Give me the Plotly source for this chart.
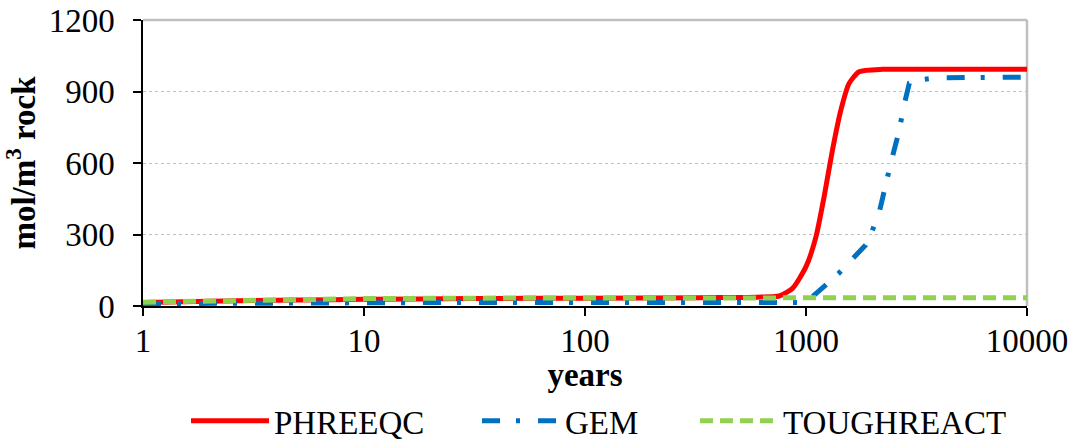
import plotly.graph_objects as go

# Time (years) and concentration (mol/m3 rock) for each code
phreeqc_years = [1, 2, 5, 10, 30, 100, 330, 600, 757, 869, 1000, 1110, 1208, 1318, 1438, 1567, 1740, 2218, 3000, 10000]
phreeqc_vals = [15, 20, 25, 28, 31, 33, 35, 37, 42, 74, 165, 291, 459, 655, 822, 934, 983, 993, 993, 993]

gem_years = [1, 2, 5, 10, 30, 100, 300, 1000, 1400, 1596, 1862, 1960, 2140, 2420, 2630, 2790, 2935, 3220, 4000, 10000]
gem_vals = [10, 12, 14, 15, 15, 15, 15, 15, 135, 193, 256, 298, 389, 600, 730, 850, 935, 948, 958, 960]

tough_years = [1, 3, 5, 10, 30, 100, 1000, 10000]
tough_vals = [16, 25, 29, 31, 33, 34, 35, 35]

x_ticks = [1, 10, 100, 1000, 10000]
x_ticktext = ["1", "10", "100", "1000", "10000"]
y_ticks = [0, 300, 600, 900, 1200]

FONT = "Liberation Serif, Times New Roman, serif"
FS = 33

fig = go.Figure()
fig.add_trace(go.Scatter(
    x=phreeqc_years, y=phreeqc_vals, name="PHREEQC", mode="lines", legend="legend",
    line=dict(color="#FF0000", width=5, shape="spline", smoothing=0.6),
))
fig.add_trace(go.Scatter(
    x=gem_years, y=gem_vals, name="GEM", mode="lines", legend="legend2",
    line=dict(color="#0070C0", width=5, dash="18px,16px,4px,18px"),
))
fig.add_trace(go.Scatter(
    x=tough_years, y=tough_vals, name="TOUGHREACT", mode="lines", legend="legend3",
    line=dict(color="#92D050", width=5, dash="13px,7px"),
))

# light frame on the top and right of the plot area
fig.add_shape(type="line", xref="paper", yref="paper", x0=0, x1=1, y0=1, y1=1,
              line=dict(color="#BFBFBF", width=2.5), layer="below")
fig.add_shape(type="line", xref="paper", yref="paper", x0=1, x1=1, y0=0, y1=1,
              line=dict(color="#BFBFBF", width=2.5), layer="below")


def legend_box(x_px):
    return dict(
        orientation="h", xref="container", x=x_px / 1082, xanchor="left",
        yref="container", y=0.052, yanchor="middle",
        font=dict(family=FONT, size=FS), itemwidth=78,
        bgcolor="rgba(0,0,0,0)", borderwidth=0,
    )


fig.update_layout(
    width=1082, height=444,
    margin=dict(l=143, r=55, t=20, b=138, autoexpand=False),
    paper_bgcolor="white", plot_bgcolor="white",
    font=dict(family=FONT, size=FS, color="black"),
    showlegend=True,
    legend=legend_box(186),
    legend2=legend_box(477),
    legend3=legend_box(695),
    xaxis=dict(
        type="log", range=[0, 4], tickvals=x_ticks, ticktext=x_ticktext,
        showgrid=False, zeroline=False, automargin=False,
        showline=True, linecolor="black", linewidth=1.5,
        ticks="outside", ticklen=8, tickcolor="black", tickwidth=1.5,
        ticklabelstandoff=-3,
        title=dict(text="<b>years</b>", font=dict(size=FS), standoff=10),
    ),
    yaxis=dict(
        range=[0, 1200], tickvals=y_ticks, automargin=False,
        showgrid=True, gridcolor="#BFBFBF", gridwidth=1, griddash="dot",
        zeroline=False,
        showline=True, linecolor="black", linewidth=1.5,
        ticks="outside", ticklen=8, tickcolor="black", tickwidth=1.5,
        ticklabelstandoff=12,
        title=dict(text="<b>mol/m<sup>3</sup> rock</b>", font=dict(size=FS), standoff=10),
    ),
)

fig.write_html("out.html")
